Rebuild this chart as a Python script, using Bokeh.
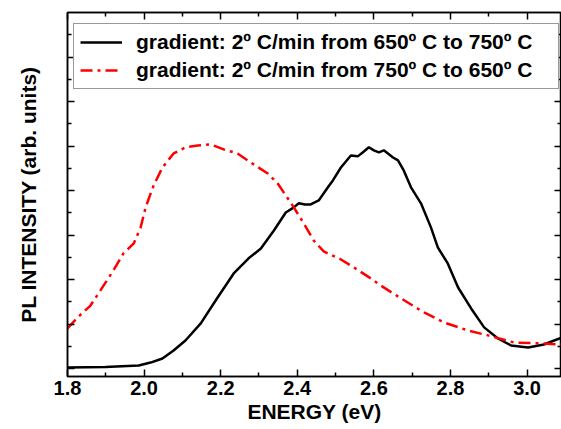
from bokeh.plotting import figure
from bokeh.models import (LinearAxis, FixedTicker, Legend, LegendItem, PrintfTickFormatter,
                          Range1d, CustomJSTickFormatter, Title)
from bokeh.embed import file_html
from bokeh.resources import INLINE

# ---- data ----
energy_up = [1.800, 1.899, 1.986, 2.017, 2.048, 2.077, 2.108, 2.148, 2.192, 2.234, 2.273, 2.305,
             2.339, 2.370, 2.391, 2.404, 2.420, 2.435, 2.456, 2.480, 2.493, 2.514, 2.540, 2.558,
             2.574, 2.587, 2.600, 2.613, 2.626, 2.650, 2.663, 2.678, 2.697, 2.723, 2.749, 2.767,
             2.793, 2.820, 2.854, 2.888, 2.924, 2.958, 3.003, 3.044, 3.092]
pl_up = [0.06, 0.08, 0.15, 0.28, 0.46, 0.82, 1.27, 2.04, 3.20, 4.28, 4.96, 5.40,
         6.21, 7.02, 7.25, 7.43, 7.38, 7.38, 7.56, 8.15, 8.46, 9.04, 9.58, 9.54,
         9.76, 9.95, 9.81, 9.72, 9.81, 9.49, 9.36, 8.91, 8.15, 7.43, 6.35, 5.45,
         4.73, 3.65, 2.71, 1.86, 1.36, 1.05, 0.96, 1.09, 1.41]

energy_down = [1.800, 1.826, 1.860, 1.886, 1.920, 1.946, 1.973, 1.991, 2.004, 2.025, 2.048, 2.077,
               2.108, 2.140, 2.174, 2.208, 2.244, 2.278, 2.323, 2.349, 2.391, 2.417, 2.443, 2.469,
               2.514, 2.548, 2.592, 2.618, 2.671, 2.731, 2.783, 2.846, 2.898, 2.966, 3.037, 3.092]
pl_down = [1.81, 2.30, 2.84, 3.52, 4.42, 5.18, 5.63, 6.35, 7.25, 8.24, 9.04, 9.67,
           9.94, 10.03, 10.08, 9.85, 9.67, 9.27, 8.77, 8.32, 7.25, 6.53, 5.76, 5.27,
           4.91, 4.55, 4.06, 3.74, 3.16, 2.53, 2.08, 1.72, 1.50, 1.18, 1.14, 1.09]

x_ticks = [1.8, 2.0, 2.2, 2.4, 2.6, 2.8, 3.0]
x_minor = [1.9, 2.1, 2.3, 2.5, 2.7, 2.9, 3.1]
y_ticks = [0, 2, 4, 6, 8, 10, 12, 14]
y_minor = [1, 3, 5, 7, 9, 11, 13, 15]

label_up = "gradient: 2º C/min from 650º C to 750º C"
label_down = "gradient: 2º C/min from 750º C to 650º C"
x_title = "ENERGY (eV)"
y_title = "PL INTENSITY (arb. units)"

FONT = "Liberation Sans"

p = figure(width=561, height=429, output_backend="svg", toolbar_location=None,
           x_range=Range1d(1.8, 3.09), y_range=Range1d(-0.346, 16.0),
           x_axis_location=None, y_axis_location=None,
           min_border_left=67, min_border_right=0, min_border_top=12, min_border_bottom=53)
p.grid.visible = False
p.outline_line_color = "black"
p.outline_line_width = 1.5
p.background_fill_color = "white"
p.border_fill_color = "white"

r_up = p.line(energy_up, pl_up, line_color="black", line_width=2.5)
r_down = p.line(energy_down, pl_down, line_color="red", line_width=2.5, line_dash="12 5 3 5")

xt = FixedTicker(ticks=x_ticks, minor_ticks=x_minor)
yt = FixedTicker(ticks=y_ticks, minor_ticks=y_minor)
blank = CustomJSTickFormatter(code="return '';")

bottom = LinearAxis(ticker=xt, formatter=PrintfTickFormatter(format="%.1f"))
top = LinearAxis(ticker=xt, formatter=blank)
left = LinearAxis(ticker=yt, formatter=blank, axis_label=y_title)
right = LinearAxis(ticker=yt, formatter=blank)
p.add_layout(bottom, "below")
p.add_layout(top, "above")
p.add_layout(left, "left")
p.add_layout(right, "right")

for ax in [bottom, top, left, right]:
    ax.axis_line_color = "black"
    ax.axis_line_width = 1.5
    ax.major_tick_in = 7
    ax.major_tick_out = 0
    ax.minor_tick_in = 4
    ax.minor_tick_out = 0
    ax.major_tick_line_width = 1.5
    ax.minor_tick_line_width = 1.5
    ax.major_tick_line_color = "black"
    ax.minor_tick_line_color = "black"

for ax in [top, left, right]:
    ax.major_label_standoff = 0
    ax.major_label_text_font_size = "0px"

bottom.major_label_text_font = FONT
bottom.major_label_text_font_style = "bold"
bottom.major_label_text_font_size = "20px"
bottom.major_label_text_color = "black"
bottom.major_label_standoff = 4

left.axis_label_text_font = FONT
left.axis_label_text_font_style = "bold"
left.axis_label_text_font_size = "21px"
left.axis_label_text_color = "black"
left.axis_label_standoff = 28

xtitle = Title(text=x_title, align="center", vertical_align="bottom", standoff=0,
               text_font=FONT, text_font_style="bold", text_font_size="21px",
               text_color="black")
p.add_layout(xtitle, "below")

legend = Legend(items=[LegendItem(label=label_up, renderers=[r_up]),
                       LegendItem(label=label_down, renderers=[r_down])],
                location=(6, 287))
legend.label_text_font = FONT
legend.label_text_font_style = "bold"
legend.label_text_font_size = "21px"
legend.label_text_color = "black"
legend.border_line_color = "#333333"
legend.border_line_width = 1.3
legend.padding = 6
legend.spacing = 4
legend.label_height = 23
legend.glyph_width = 42
legend.label_standoff = 14
legend.label_width = 416
legend.margin = 0
legend.background_fill_alpha = 1.0
p.add_layout(legend, "center")

open("out.html", "w").write(file_html(p, INLINE))
